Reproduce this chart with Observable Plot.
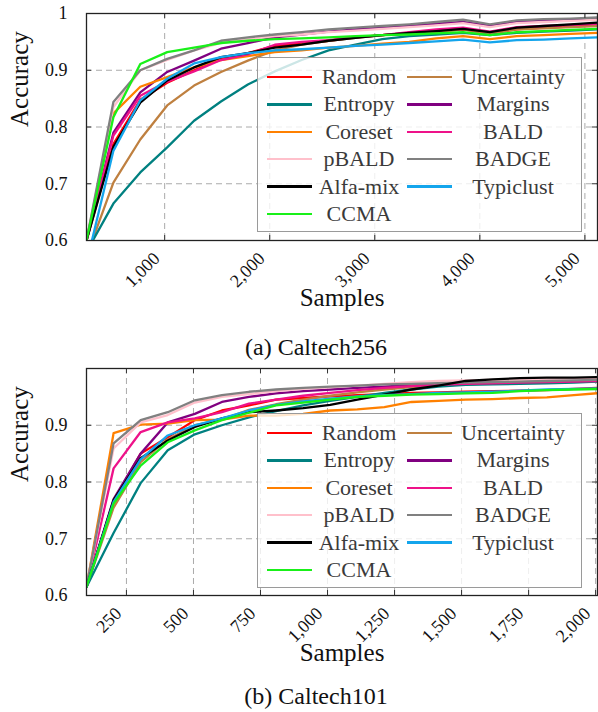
<!DOCTYPE html>
<html><head><meta charset="utf-8">
<script src="https://cdn.jsdelivr.net/npm/d3@7"></script>
<script src="https://cdn.jsdelivr.net/npm/@observablehq/plot@0.6"></script>
<style>
body{margin:0;background:#fff;font-family:"Liberation Serif",serif;}
#wrap{position:relative;width:598px;height:712px;overflow:hidden;background:#fff;}
.panel{position:absolute;left:0;}
.caption{position:absolute;z-index:5;left:176px;width:280px;text-align:center;font-size:24px;line-height:28px;color:#111;}
.legend{position:absolute;z-index:4;width:325px;height:175px;box-sizing:border-box;border:1.3px solid #9a9a9a;background:rgba(255,255,255,0.8);}
.legend .sw{position:absolute;height:2.4px;width:45px;}
.legend .lb{position:absolute;width:120px;text-align:center;font-size:22px;line-height:26px;color:#3a3a3a;}
</style></head>
<body><div id="wrap"></div>
<script>
const methods = ["Random","Uncertainty","Entropy","Margins","Coreset","BALD","pBALD","BADGE","Alfa-mix","Typiclust","CCMA"];
const colors  = ["#ff0000","#bf8040","#008080","#800080","#ff8000","#ee1289","#ffc0cb","#808080","#000000","#14a5ec","#19f019"];

// (a) Caltech256
const samples256 = [256,512,768,1024,1280,1536,1792,2048,2304,2560,2816,3072,3328,3584,3840,4096,4352,4608,4864,5120];
const c256Random      = [0.600,0.770,0.848,0.878,0.900,0.920,0.930,0.943,0.947,0.952,0.958,0.962,0.965,0.968,0.972,0.965,0.972,0.975,0.977,0.979];
const c256Uncertainty = [0.572,0.702,0.778,0.838,0.873,0.897,0.917,0.935,0.945,0.952,0.957,0.962,0.966,0.968,0.972,0.965,0.972,0.974,0.976,0.978];
const c256Entropy     = [0.580,0.665,0.720,0.764,0.811,0.845,0.875,0.898,0.918,0.935,0.945,0.955,0.960,0.963,0.966,0.962,0.966,0.968,0.970,0.972];
const c256Margins     = [0.600,0.790,0.861,0.897,0.917,0.938,0.948,0.958,0.963,0.968,0.972,0.975,0.978,0.982,0.985,0.978,0.985,0.987,0.989,0.991];
const c256Coreset     = [0.600,0.824,0.871,0.888,0.905,0.918,0.925,0.932,0.935,0.940,0.943,0.947,0.950,0.956,0.960,0.955,0.960,0.962,0.964,0.966];
const c256BALD        = [0.600,0.785,0.855,0.880,0.898,0.918,0.928,0.945,0.950,0.953,0.958,0.962,0.967,0.972,0.975,0.968,0.976,0.978,0.980,0.982];
const c256pBALD       = [0.600,0.835,0.900,0.918,0.935,0.948,0.955,0.960,0.963,0.967,0.970,0.973,0.976,0.979,0.983,0.976,0.983,0.985,0.987,0.989];
const c256BADGE       = [0.600,0.844,0.900,0.920,0.935,0.952,0.958,0.963,0.967,0.972,0.975,0.978,0.981,0.985,0.989,0.981,0.988,0.990,0.991,0.993];
const c256AlfaMix     = [0.600,0.765,0.843,0.882,0.905,0.923,0.930,0.940,0.945,0.952,0.957,0.962,0.966,0.969,0.973,0.967,0.975,0.978,0.981,0.984];
const c256Typiclust   = [0.560,0.758,0.847,0.885,0.912,0.923,0.930,0.935,0.937,0.940,0.943,0.945,0.948,0.951,0.954,0.949,0.953,0.954,0.956,0.958];
const c256CCMA        = [0.600,0.817,0.911,0.932,0.940,0.948,0.952,0.955,0.956,0.958,0.960,0.962,0.963,0.965,0.967,0.962,0.967,0.969,0.971,0.973];

// (b) Caltech101
const samples101 = [101,202,303,404,505,606,707,808,909,1010,1111,1212,1313,1414,1515,1616,1717,1818,1919,2020];
const c101Random      = [0.615,0.767,0.850,0.879,0.909,0.926,0.935,0.945,0.948,0.951,0.953,0.955,0.957,0.958,0.959,0.960,0.961,0.962,0.964,0.966];
const c101Uncertainty = [0.615,0.755,0.835,0.875,0.900,0.910,0.927,0.937,0.945,0.952,0.958,0.963,0.967,0.970,0.972,0.974,0.975,0.976,0.977,0.978];
const c101Entropy     = [0.615,0.710,0.798,0.856,0.884,0.900,0.914,0.925,0.935,0.943,0.950,0.957,0.963,0.968,0.971,0.972,0.973,0.974,0.975,0.977];
const c101Margins     = [0.615,0.770,0.850,0.905,0.920,0.941,0.950,0.956,0.960,0.963,0.966,0.968,0.971,0.973,0.975,0.976,0.977,0.978,0.978,0.979];
const c101Coreset     = [0.615,0.886,0.901,0.903,0.909,0.910,0.917,0.917,0.920,0.926,0.928,0.932,0.941,0.943,0.945,0.946,0.948,0.949,0.953,0.957];
const c101BALD        = [0.615,0.824,0.888,0.905,0.912,0.923,0.938,0.945,0.952,0.957,0.962,0.966,0.969,0.971,0.973,0.974,0.975,0.976,0.977,0.978];
const c101pBALD       = [0.615,0.859,0.905,0.918,0.940,0.950,0.955,0.960,0.964,0.967,0.970,0.973,0.976,0.978,0.979,0.980,0.980,0.981,0.982,0.982];
const c101BADGE       = [0.615,0.868,0.909,0.923,0.944,0.953,0.959,0.963,0.966,0.968,0.970,0.972,0.973,0.974,0.975,0.976,0.977,0.978,0.979,0.980];
const c101AlfaMix     = [0.615,0.768,0.842,0.873,0.897,0.912,0.923,0.926,0.930,0.936,0.945,0.954,0.963,0.970,0.978,0.981,0.983,0.984,0.984,0.985];
const c101Typiclust   = [0.615,0.765,0.840,0.882,0.900,0.912,0.926,0.936,0.942,0.947,0.951,0.953,0.955,0.957,0.958,0.959,0.961,0.963,0.964,0.965];
const c101CCMA        = [0.615,0.762,0.829,0.870,0.891,0.909,0.922,0.935,0.940,0.945,0.950,0.952,0.954,0.955,0.956,0.957,0.960,0.962,0.963,0.964];

const xTicks256 = [1000,2000,3000,4000,5000];
const yTicks256 = [0.6,0.7,0.8,0.9,1];
const xTicks101 = [250,500,750,1000,1250,1500,1750,2000];
const yTicks101 = [0.6,0.7,0.8,0.9];

const legendRows = [["Random","Uncertainty"],["Entropy","Margins"],["Coreset","BALD"],["pBALD","BADGE"],["Alfa-mix","Typiclust"],["CCMA",null]];

const W = 598, H = 330, ML = 86, MR = 1, MT = 13, MB = 90;
const FW = W - ML - MR, FH = H - MT - MB;

function panel(xs, series, xDomain, yDomain, xTicks, yTicks) {
  const data = [];
  methods.forEach((m, i) => series[i].forEach((v, j) => data.push({method: m, x: xs[j], y: v})));
  const grid = {stroke: "#aaa", strokeOpacity: 1, strokeWidth: 1, strokeDasharray: "6,4"};
  const tk = {stroke: "#333", strokeWidth: 1};
  return Plot.plot({
    width: W, height: H, marginTop: MT, marginLeft: ML, marginRight: MR, marginBottom: MB,
    style: {fontFamily: "'Liberation Serif', serif", fontSize: "18px", color: "#111", background: "transparent", overflow: "visible"},
    x: {domain: xDomain},
    y: {domain: yDomain},
    color: {domain: methods, range: colors},
    marks: [
      Plot.gridX(xTicks, grid),
      Plot.gridY(yTicks, grid),
      Plot.line(data, {x: "x", y: "y", z: "method", stroke: "method", strokeWidth: 2.3, clip: true}),
      Plot.tickX(xTicks, {x: d => d, insetTop: FH - 5, ...tk}),
      Plot.tickX(xTicks, {x: d => d, insetBottom: FH - 5, ...tk}),
      Plot.tickY(yTicks, {y: d => d, insetRight: FW - 5, ...tk}),
      Plot.tickY(yTicks, {y: d => d, insetLeft: FW - 5, ...tk}),
      Plot.frame({stroke: "#222", strokeWidth: 1.3}),
      Plot.axisY(yTicks, {tickSize: 0, tickPadding: 19, tickFormat: d => d === 1 ? "1" : d.toFixed(1), label: null}),
      Plot.axisX(xTicks, {tickSize: 0, tickPadding: 15, tickRotate: -45, dx: -8, tickFormat: d3.format(","), label: null}),
      Plot.text(["Accuracy"], {frameAnchor: "left", rotate: -90, dx: -67, fontSize: 25, fill: "#111"}),
      Plot.text(["Samples"], {frameAnchor: "bottom", dy: 65, fontSize: 25, fill: "#111"})
    ]
  });
}

function legend(top) {
  const box = document.createElement("div");
  box.className = "legend";
  box.style.left = "257px";
  box.style.top = top + "px";
  legendRows.forEach((row, r) => {
    const cy = 19 + 27.4 * r;
    row.forEach((name, c) => {
      if (!name) return;
      const sw = document.createElement("div");
      sw.className = "sw";
      sw.style.left = (c === 0 ? 9 : 149) + "px";
      sw.style.top = (cy - 1.2) + "px";
      sw.style.background = colors[methods.indexOf(name)];
      box.appendChild(sw);
      const lb = document.createElement("div");
      lb.className = "lb";
      lb.textContent = name;
      lb.style.left = ((c === 0 ? 101 : 255) - 60) + "px";
      lb.style.top = (cy - 13) + "px";
      box.appendChild(lb);
    });
  });
  return box;
}

const wrap = document.getElementById("wrap");

const p1 = panel(samples256,
  [c256Random,c256Uncertainty,c256Entropy,c256Margins,c256Coreset,c256BALD,c256pBALD,c256BADGE,c256AlfaMix,c256Typiclust,c256CCMA],
  [256, 5120], [0.6, 1], xTicks256, yTicks256);
const d1 = document.createElement("div"); d1.className = "panel"; d1.style.top = "0px"; d1.appendChild(p1); wrap.appendChild(d1);

const p2 = panel(samples101,
  [c101Random,c101Uncertainty,c101Entropy,c101Margins,c101Coreset,c101BALD,c101pBALD,c101BADGE,c101AlfaMix,c101Typiclust,c101CCMA],
  [101, 2007], [0.6, 1.0], xTicks101, yTicks101);
const d2 = document.createElement("div"); d2.className = "panel"; d2.style.top = "355px"; d2.appendChild(p2); wrap.appendChild(d2);

wrap.appendChild(legend(57));
wrap.appendChild(legend(413));
const cap1 = document.createElement("div"); cap1.className = "caption"; cap1.style.top = "333px"; cap1.textContent = "(a) Caltech256"; wrap.appendChild(cap1);
const cap2 = document.createElement("div"); cap2.className = "caption"; cap2.style.top = "682px"; cap2.textContent = "(b) Caltech101"; wrap.appendChild(cap2);
</script>
</body></html>
